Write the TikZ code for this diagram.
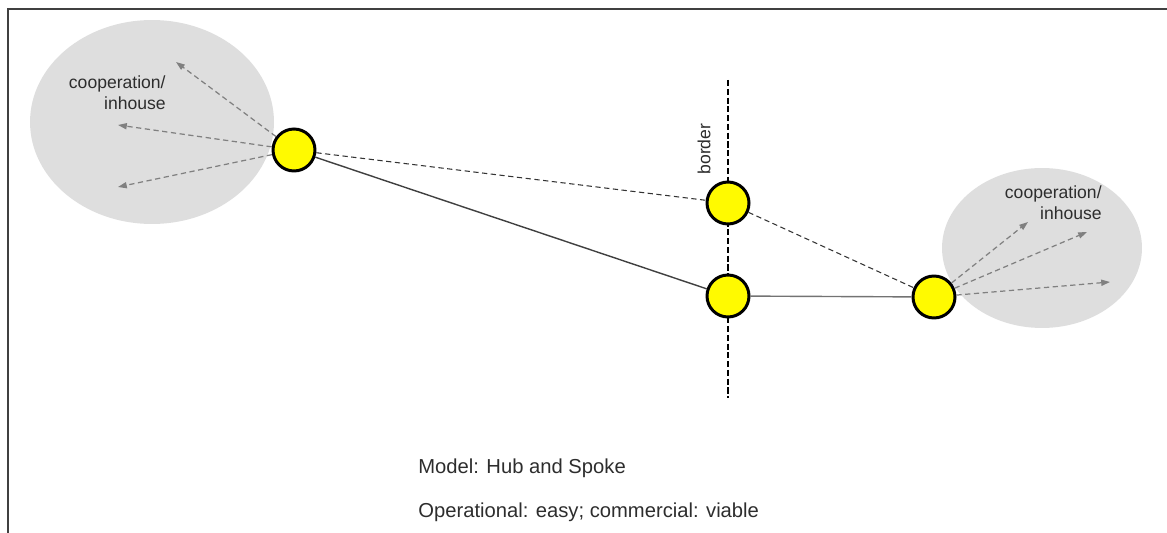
\documentclass[tikz,border=0pt]{standalone}
\usepackage{fontspec}
\setmainfont{Liberation Sans}
\usetikzlibrary{positioning,arrows.meta}
\definecolor{HubYellow}{RGB}{255,250,0}
\definecolor{AreaGray}{RGB}{222,222,222}
\definecolor{LabelText}{RGB}{45,45,45}

\begin{document}
\begin{tikzpicture}[x=0.02cm, y=-0.02cm,
    hub/.style={circle, draw=black, fill=HubYellow, line width=1.7pt,
        minimum size=0.84cm, inner sep=0pt},
    area/.style={fill=AreaGray},
    label/.style={font=\fontsize{10}{12}\selectfont, text=LabelText, align=right, inner sep=0pt},
    caption/.style={font=\fontsize{11.5}{13}\selectfont, text=LabelText, anchor=west, inner sep=0pt},
    spoke/.style={-{Triangle[length=5pt, width=3.5pt]}, gray, line width=0.7pt,
        dash pattern=on 3pt off 2pt},
    link/.style={black!80, line width=0.6pt, dash pattern=on 3pt off 2pt},
    road/.style={black!75, line width=0.8pt},
]
\useasboundingbox (0,0) rectangle (1167,533);
% frame
\draw[black!75, line width=1.2pt] (1167,9) -- (8,9) -- (8,533);
% catchment areas
\fill[area] (152,122) ellipse [x radius=2.44cm, y radius=2.04cm];
\fill[area] (1042,248) ellipse [x radius=2.0cm, y radius=1.6cm];
% border
\coordinate (bTop) at (728,80);
\coordinate (bBot) at (728,398);
\draw[black, line width=0.8pt, dash pattern=on 3.5pt off 1.5pt] (bTop) -- (bBot);
\node[rotate=90, font=\fontsize{10}{12}\selectfont, text=LabelText] (bLab) at (704,149) {border};
% hubs
\node[hub] (hubL) at (294,150) {};
\node[hub] (bUp) at (728,203) {};
\node[hub] (bLow) at (728,296) {};
\node[hub] (hubR) at (934,297) {};
% labels
\node[label, anchor=east] (labL) at (166,93) {cooperation/\\inhouse};
\node[label, anchor=east] (labR) at (1102,203) {cooperation/\\inhouse};
% spokes
\coordinate (tL1) at (176,62);
\coordinate (tL2) at (118,125);
\coordinate (tL3) at (118,187);
\coordinate (tR1) at (1028,222);
\coordinate (tR2) at (1087,232);
\coordinate (tR3) at (1110,282);
\foreach \t in {tL1,tL2,tL3} \draw[spoke] (hubL) -- (\t);
\foreach \t in {tR1,tR2,tR3} \draw[spoke] (hubR) -- (\t);
% connections
\draw[link] (hubL) -- (bUp);
\draw[link] (bUp) -- (hubR);
\draw[road] (hubL) -- (bLow);
\draw[road, black!55] (bLow) -- (hubR);
% caption
\node[caption] (cap1) at (418,468) {Model: Hub and Spoke};
\node[caption] (cap2) at (418,512) {Operational: easy; commercial: viable};
\end{tikzpicture}
\end{document}
